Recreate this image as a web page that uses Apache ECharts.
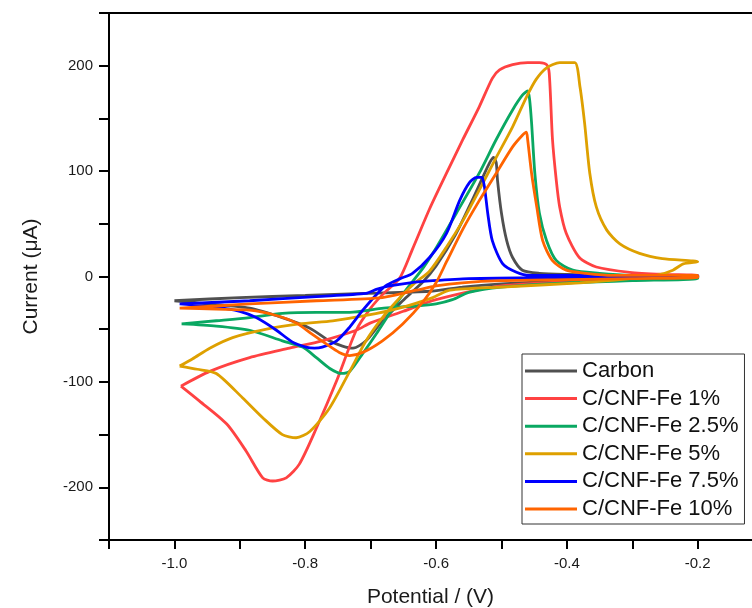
<!DOCTYPE html>
<html>
<head>
<meta charset="utf-8">
<script src="https://cdn.jsdelivr.net/npm/echarts@6/dist/echarts.min.js"></script>
<style>html,body{margin:0;padding:0;background:#fff}#c{width:752px;height:608px}</style>
</head>
<body>
<div id="c"></div>
<script>
// Potential (V), Current (µA) pairs, traced as closed CV loops
const seriesNames = ['Carbon', 'C/CNF-Fe 1%', 'C/CNF-Fe 2.5%', 'C/CNF-Fe 5%', 'C/CNF-Fe 7.5%', 'C/CNF-Fe 10%'];

const carbon = [[-1.0,-23],[-0.95,-26],[-0.885,-30],[-0.835,-39],[-0.793,-49],[-0.763,-61],[-0.743,-66],[-0.727,-68],[-0.707,-61],[-0.682,-42],[-0.651,-23],[-0.62,-5],[-0.6,10],[-0.57,40],[-0.545,72],[-0.528,95],[-0.518,108],[-0.512,113],[-0.508,108],[-0.506,91],[-0.5,60],[-0.492,34],[-0.483,18],[-0.468,6],[-0.442,3],[-0.4,2],[-0.3,1],[-0.2,1],
  [-0.2,-1],[-0.3,-2],[-0.4,-4],[-0.5,-7],[-0.56,-10],[-0.61,-14],[-0.71,-16],[-0.8,-18],[-0.9,-20],[-1.0,-23]];

const fe1 = [[-0.99,-104],[-0.962,-118],[-0.92,-140],[-0.89,-166],[-0.865,-191],[-0.85,-194],[-0.829,-191],[-0.809,-178],[-0.783,-144],[-0.752,-99],[-0.722,-51],[-0.70,-30],[-0.68,-16],[-0.656,-2],[-0.636,26],[-0.61,64],[-0.584,98],[-0.559,130],[-0.534,161],[-0.514,188],[-0.503,196],[-0.483,201],[-0.46,203],[-0.442,203],[-0.431,201],[-0.427,193],[-0.422,130],[-0.416,90],[-0.411,66],[-0.401,41],[-0.381,18],[-0.355,9],[-0.304,4],[-0.25,2],[-0.2,1],
  [-0.2,-1],[-0.3,-3],[-0.4,-5],[-0.5,-9],[-0.6,-22],[-0.65,-33],[-0.70,-44],[-0.722,-51],[-0.774,-61],[-0.824,-68],[-0.885,-77],[-0.946,-90],[-0.99,-104]];

const fe25 = [[-0.989,-45],[-0.936,-47],[-0.885,-51],[-0.835,-61],[-0.804,-67],[-0.783,-77],[-0.763,-87],[-0.745,-92],[-0.732,-90],[-0.712,-73],[-0.691,-54],[-0.671,-35],[-0.645,-12],[-0.62,8],[-0.599,28],[-0.569,60],[-0.534,98],[-0.508,130],[-0.483,158],[-0.468,172],[-0.46,176],[-0.457,168],[-0.454,146],[-0.449,98],[-0.442,60],[-0.431,34],[-0.416,15],[-0.391,6],[-0.35,3],[-0.3,1],[-0.2,0],
  [-0.2,-2],[-0.3,-4],[-0.4,-6],[-0.5,-10],[-0.55,-15],[-0.575,-22],[-0.6,-26],[-0.63,-28],[-0.68,-30],[-0.732,-34],[-0.783,-34],[-0.835,-35],[-0.885,-39],[-0.936,-42],[-0.989,-45]];

const fe5 = [[-0.992,-85],[-0.965,-88],[-0.936,-92],[-0.896,-115],[-0.865,-134],[-0.835,-150],[-0.814,-153],[-0.793,-147],[-0.763,-125],[-0.732,-90],[-0.707,-61],[-0.682,-39],[-0.655,-20],[-0.632,-6],[-0.61,5],[-0.584,28],[-0.559,53],[-0.534,82],[-0.508,113],[-0.483,142],[-0.462,170],[-0.447,187],[-0.431,198],[-0.411,203],[-0.388,203],[-0.38,180],[-0.373,146],[-0.365,98],[-0.355,66],[-0.339,44],[-0.319,31],[-0.289,22],[-0.254,17],[-0.2,14],
  [-0.222,12],[-0.238,6],[-0.263,1],[-0.304,-2],[-0.38,-6],[-0.5,-10],[-0.579,-13],[-0.605,-20],[-0.656,-30],[-0.707,-37],[-0.758,-42],[-0.809,-45],[-0.859,-50],[-0.911,-58],[-0.946,-68],[-0.972,-78],[-0.992,-85]];

const fe75 = [[-0.992,-26],[-0.936,-29],[-0.9,-33],[-0.875,-39],[-0.844,-51],[-0.82,-62],[-0.799,-67],[-0.786,-68],[-0.774,-67],[-0.752,-61],[-0.732,-48],[-0.712,-32],[-0.691,-17],[-0.675,-8],[-0.655,-2],[-0.636,3],[-0.61,18],[-0.584,41],[-0.564,72],[-0.549,89],[-0.538,94],[-0.53,94],[-0.526,85],[-0.521,60],[-0.514,34],[-0.498,12],[-0.477,4],[-0.457,1],[-0.3,1],[-0.2,1],
  [-0.2,0],[-0.4,-1],[-0.55,-2],[-0.605,-4],[-0.64,-6],[-0.671,-9],[-0.69,-12],[-0.707,-16],[-0.783,-19],[-0.885,-23],[-0.992,-26]];

const fe10 = [[-0.992,-30],[-0.936,-31],[-0.885,-32],[-0.844,-37],[-0.814,-44],[-0.789,-55],[-0.768,-64],[-0.748,-72],[-0.732,-75],[-0.712,-72],[-0.682,-61],[-0.651,-45],[-0.62,-24],[-0.6,-6],[-0.584,14],[-0.559,45],[-0.534,72],[-0.508,98],[-0.483,123],[-0.468,134],[-0.462,137],[-0.46,130],[-0.454,98],[-0.446,66],[-0.437,34],[-0.422,15],[-0.401,6],[-0.371,3],[-0.33,1],[-0.2,1],
  [-0.2,-1],[-0.3,-2],[-0.4,-3],[-0.5,-4],[-0.56,-6],[-0.6,-9],[-0.63,-13],[-0.682,-20],[-0.783,-23],[-0.885,-26],[-0.936,-28],[-0.992,-30]];

const seriesData = [carbon, fe1, fe25, fe5, fe75, fe10];
const colors = ['#505050', '#ff4242', '#0aa862', '#dea000', '#0000ff', '#ff6400'];

// visible x range: the plot is cut at the right edge of the picture
const xTicks = { min: -1.1, max: -0.117, interval: 0.1 };
const yTicks = { min: -250, max: 250, interval: 50 };

const font = 'Liberation Sans, Arial, sans-serif';
const chart = echarts.init(document.getElementById('c'));
chart.setOption({
  animation: false,
  backgroundColor: '#fff',
  grid: { left: 109, top: 13, right: 0, bottom: 68, containLabel: false, outerBoundsMode: 'none' },
  xAxis: [{
    type: 'value', min: xTicks.min, max: xTicks.max, interval: xTicks.interval,
    position: 'bottom',
    name: 'Potential / (V)', nameLocation: 'middle', nameGap: 47,
    nameTextStyle: { fontFamily: font, fontSize: 21, color: '#1a1a1a' },
    axisLine: { show: true, onZero: false, lineStyle: { color: '#000', width: 2 } },
    axisTick: { show: true, inside: false, length: 9, lineStyle: { color: '#000', width: 2 } },
    axisLabel: { margin: 16, fontFamily: font, fontSize: 15, color: '#1a1a1a', showMaxLabel: false,
      formatter: v => (Math.abs(v * 10 - Math.round(v * 10)) < 1e-6 && Math.round(v * 10) % 2 === 0 ? v.toFixed(1) : '') },
    splitLine: { show: false }
  }, {
    type: 'value', min: xTicks.min, max: xTicks.max, position: 'top',
    axisLine: { show: true, onZero: false, lineStyle: { color: '#000', width: 2 } },
    axisTick: { show: false }, axisLabel: { show: false }, splitLine: { show: false }
  }],
  yAxis: {
    type: 'value', min: yTicks.min, max: yTicks.max, interval: yTicks.interval,
    name: 'Current (μA)', nameLocation: 'middle', nameGap: 67,
    nameTextStyle: { fontFamily: font, fontSize: 21, color: '#1a1a1a' },
    axisLine: { show: true, onZero: false, lineStyle: { color: '#000', width: 2 } },
    axisTick: { show: true, inside: false, length: 10, lineStyle: { color: '#000', width: 2 } },
    axisLabel: { margin: 16, fontFamily: font, fontSize: 15, color: '#1a1a1a',
      formatter: v => (v % 100 === 0 ? String(v) : '') },
    splitLine: { show: false }
  },
  legend: {
    data: seriesNames,
    orient: 'vertical', left: 522, top: 354,
    padding: [5, 6, 3, 3], itemGap: 3.6,
    itemWidth: 52, itemHeight: 3, icon: 'rect',
    borderColor: '#333', borderWidth: 1, backgroundColor: '#fff',
    textStyle: { fontFamily: font, fontSize: 22, color: '#111', lineHeight: 24, padding: [0, 0, 0, 0] },
    itemStyle: { borderWidth: 0 }
  },
  series: seriesData.map((d, i) => ({
    name: seriesNames[i], type: 'line', data: d, xAxisIndex: 0,
    showSymbol: false, symbol: 'none', smooth: 0.25,
    lineStyle: { color: colors[i], width: 2.8 }, itemStyle: { color: colors[i] },
    z: 2 + i
  }))
});
</script>
</body>
</html>
